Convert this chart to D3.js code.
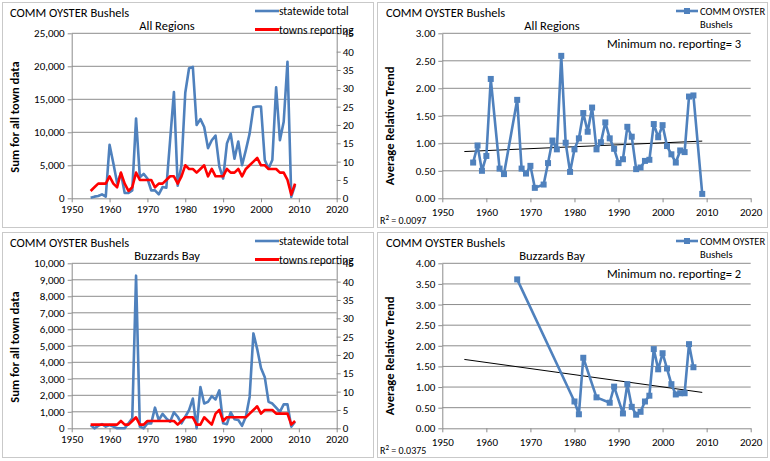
<!DOCTYPE html>
<html>
<head>
<meta charset="utf-8">
<script src="https://cdn.jsdelivr.net/npm/d3@7"></script>
<style>
  body { margin: 0; background: #fff; }
  svg text { font-family: Carlito, Lato, "Open Sans", sans-serif; fill: #000; }
</style>
</head>
<body>
<div id="root"></div>
<script>
// ---- data ----
const years = [1955,1956,1957,1958,1959,1960,1961,1962,1963,1964,1965,1966,1967,1968,1969,
  1970,1971,1972,1973,1974,1975,1976,1977,1978,1979,1980,1981,1982,1983,1984,1985,1986,1987,
  1988,1989,1990,1991,1992,1993,1994,1995,1996,1997,1998,1999,2000,2001,2002,2003,2004,2005,
  2006,2007,2008,2009];
// statewide total bushels, all regions
const allTotal = [100,250,350,600,250,8100,5300,2300,3800,800,800,1200,12100,3200,3700,
  3000,1200,1200,600,1700,1600,8800,16100,1900,5000,16000,19700,19900,11100,12000,10800,7600,8800,
  9500,4800,3000,8300,9800,6000,8600,5000,7300,9800,13800,13900,13900,5800,4500,5800,16800,8800,
  11600,20700,200,2000];
const allTowns = [2,3,4,4,4,6,4,3,7,4,2,3,7,5,5,
  5,5,3,4,4,5,6,6,4,6,9,8,8,7,8,9,6,8,
  6,6,6,8,7,7,8,6,8,9,10,11,9,9,8,8,8,7,
  7,5,1,4];
// Buzzards Bay
const bbTotal = [200,0,150,250,100,200,100,0,0,0,300,600,9250,100,0,
  300,300,1250,500,870,600,400,970,700,300,700,1100,1800,0,2500,1500,1600,1950,
  1750,2300,300,250,970,550,500,150,700,1900,5750,4800,3650,3100,1600,1500,1250,1000,
  1450,1450,100,400];
const bbTowns = [1,1,1,1,1,1,1,1,2,1,1,2,3,1,1,
  2,2,2,2,2,2,2,2,1,2,3,3,3,1,1,3,2,1,
  4,5,2,3,3,3,3,3,3,4,5,6,4,5,5,5,4,4,
  4,4,1,2];

// average relative trend, all regions (min. 3 reporting)
const allTrendYears = [1957,1958,1959,1960,1961,1963,1964,1967,1968,1969,1970,1971,1973,1974,
  1975,1976,1977,1978,1979,1980,1981,1982,1983,1984,1985,1986,1987,1988,1989,1990,1991,1992,
  1993,1994,1995,1996,1997,1998,1999,2000,2001,2002,2003,2004,2005,2006,2007,2009];
const allTrend = [0.65,0.96,0.50,0.77,2.17,0.54,0.44,1.79,0.54,0.45,0.59,0.19,0.25,0.64,
  1.05,0.89,2.59,1.01,0.48,0.89,1.09,1.55,1.21,1.65,0.89,1.02,1.38,1.09,0.90,0.64,0.71,1.30,
  1.12,0.53,0.56,0.68,0.70,1.35,1.11,1.33,0.95,0.80,0.65,0.87,0.84,1.85,1.87,0.08];
// Buzzards Bay (min. 2 reporting)
const bbTrendYears = [1967,1980,1981,1982,1985,1988,1989,1991,1992,1993,1994,1995,1996,1997,
  1998,1999,2000,2001,2002,2003,2004,2005,2006,2007];
const bbTrend = [3.61,0.65,0.34,1.71,0.75,0.62,1.01,0.36,1.07,0.52,0.33,0.40,0.65,0.79,
  1.92,1.43,1.82,1.45,1.07,0.82,0.85,0.85,2.04,1.48];

// linear trend lines as drawn (end points)
const fitYears = [1955, 2009];
const allFit = [0.85, 1.04];
const bbFit = [1.67, 0.87];

// tick labels
const xTicks = [1950,1960,1970,1980,1990,2000,2010,2020];
const allSumTicks = [0,5000,10000,15000,20000,25000];
const bbSumTicks = [0,1000,2000,3000,4000,5000,6000,7000,8000,9000,10000];
const townTicks = [0,5,10,15,20,25,30,35,40,45];
const allTrendTicks = [0,0.5,1,1.5,2,2.5,3];
const bbTrendTicks = [0,0.5,1,1.5,2,2.5,3,3.5,4];

// ---- drawing ----
const BLUE = "#4f81bd", RED = "#ff0000", GRID = "#8c8c8c", FRAME = "#c9c9c9";
const svg = d3.select("#root").append("svg").attr("width", 770).attr("height", 461);

let styleAxis = g => {
  g.select(".domain").attr("stroke", GRID);
  g.selectAll(".tick line").attr("stroke", GRID);
  g.selectAll("text").attr("font-size", 11);
};

let frame = (x, y, w, h) => {
  svg.append("rect").attr("x", x + 0.5).attr("y", y + 0.5).attr("width", w).attr("height", h)
    .attr("fill", "#fff").attr("stroke", FRAME);
};

let xScale = (l, r) => d3.scaleLinear().domain([1950, 2020]).range([l, r]);

let comboPanel = (top, region, totals, towns, sumTicks) => {
  const L = 71.7, R = 336.7, T = top + 33.3, B = top + 198.3;
  frame(2, top + 2, 371, 225);
  const x = xScale(L, R);
  const y = d3.scaleLinear().domain([0, d3.max(sumTicks)]).range([B, T]);
  const y2 = d3.scaleLinear().domain([0, 45]).range([B, T]);
  const g = svg.append("g");

  g.selectAll("line.grid").data(sumTicks.slice(1)).join("line").attr("class", "grid")
    .attr("x1", L).attr("x2", R).attr("y1", d => y(d)).attr("y2", d => y(d))
    .attr("stroke", GRID);

  g.append("g").attr("transform", `translate(${L},0)`)
    .call(d3.axisLeft(y).tickValues(sumTicks).tickFormat(d3.format(",")).tickSize(4).tickSizeOuter(0))
    .call(styleAxis).selectAll("text").attr("x", -7);
  g.append("g").attr("transform", `translate(${R},0)`)
    .call(d3.axisRight(y2).tickValues(townTicks).tickSize(4).tickSizeOuter(0))
    .call(styleAxis).selectAll("text").attr("x", 6);
  g.append("g").attr("transform", `translate(0,${B})`)
    .call(d3.axisBottom(x).tickValues(xTicks).tickFormat(d3.format("d")).tickSize(4).tickSizeOuter(0))
    .call(styleAxis).selectAll("text").attr("y", 7);

  const line = (yy, vals) => d3.line().x((d, i) => x(years[i])).y(d => yy(d))(vals);
  g.append("path").attr("d", line(y, totals)).attr("fill", "none")
    .attr("stroke", BLUE).attr("stroke-width", 2.6).attr("stroke-linejoin", "round");
  g.append("path").attr("d", line(y2, towns)).attr("fill", "none")
    .attr("stroke", RED).attr("stroke-width", 2.6).attr("stroke-linejoin", "round");

  g.append("text").attr("x", 10).attr("y", top + 17).attr("font-size", 12.5).text("COMM OYSTER Bushels");
  g.append("text").attr("x", 167).attr("y", top + 30).attr("font-size", 12.5)
    .attr("text-anchor", "middle").text(region);
  g.append("text").attr("transform", `translate(19,${top + 117}) rotate(-90)`)
    .attr("text-anchor", "middle").attr("font-size", 12.5).attr("font-weight", "bold")
    .text("Sum for all town data");

  // legend
  [[BLUE, "statewide total", 11], [RED, "towns reporting", 29.5]].forEach(([c, t, dy]) => {
    g.append("line").attr("x1", 255).attr("x2", 279).attr("y1", top + dy).attr("y2", top + dy)
      .attr("stroke", c).attr("stroke-width", c === RED ? 3 : 2.6);
    g.append("text").attr("x", 279).attr("y", top + dy + 4).attr("font-size", 11.5).text(t);
  });
};

let trendPanel = (top, region, yrs, vals, fit, ticks, minRep, r2) => {
  const L = 442.3, R = 750.7, T = top + 33.3, B = top + 198.3;
  frame(377, top + 2, 390, 225);
  const x = xScale(L, R);
  const y = d3.scaleLinear().domain([0, d3.max(ticks)]).range([B, T]);
  const g = svg.append("g");

  g.selectAll("line.grid").data(ticks.slice(1)).join("line").attr("class", "grid")
    .attr("x1", L).attr("x2", R).attr("y1", d => y(d)).attr("y2", d => y(d))
    .attr("stroke", GRID);
  g.append("g").attr("transform", `translate(${L},0)`)
    .call(d3.axisLeft(y).tickValues(ticks).tickFormat(d3.format(".2f")).tickSize(4).tickSizeOuter(0))
    .call(styleAxis).selectAll("text").attr("x", -7);
  g.append("g").attr("transform", `translate(0,${B})`)
    .call(d3.axisBottom(x).tickValues(xTicks).tickFormat(d3.format("d")).tickSize(4).tickSizeOuter(0))
    .call(styleAxis).selectAll("text").attr("y", 10);

  g.append("path").attr("d", d3.line().x(d => x(d[0])).y(d => y(d[1]))(d3.zip(fitYears, fit)))
    .attr("stroke", "#000").attr("stroke-width", 1).attr("fill", "none");

  const pts = d3.zip(yrs, vals);
  g.append("path").attr("d", d3.line().x(d => x(d[0])).y(d => y(d[1]))(pts))
    .attr("fill", "none").attr("stroke", BLUE).attr("stroke-width", 2.6).attr("stroke-linejoin", "round");
  g.selectAll("rect.pt").data(pts).join("rect").attr("class", "pt")
    .attr("x", d => x(d[0]) - 3).attr("y", d => y(d[1]) - 3).attr("width", 6).attr("height", 6)
    .attr("fill", BLUE);

  g.append("text").attr("x", 386).attr("y", top + 17).attr("font-size", 12.5).text("COMM OYSTER Bushels");
  g.append("text").attr("x", 552).attr("y", top + 30).attr("font-size", 12.5)
    .attr("text-anchor", "middle").text(region);
  g.append("text").attr("transform", `translate(394,${top + 126}) rotate(-90)`)
    .attr("text-anchor", "middle").attr("font-size", 12.5).attr("font-weight", "bold")
    .text("Average Relative Trend");
  g.append("text").attr("x", 674).attr("y", top + 48).attr("font-size", 12.5)
    .attr("text-anchor", "middle").text("Minimum no. reporting= " + minRep);
  const r2t = g.append("text").attr("x", 380).attr("y", top + 224).attr("font-size", 10);
  r2t.append("tspan").text("R");
  r2t.append("tspan").attr("dy", -4).attr("font-size", 7).text("2");
  r2t.append("tspan").attr("dy", 4).text(" = " + r2);

  // legend
  g.append("line").attr("x1", 676).attr("x2", 698).attr("y1", top + 11).attr("y2", top + 11)
    .attr("stroke", BLUE).attr("stroke-width", 2.6);
  g.append("rect").attr("x", 684).attr("y", top + 8).attr("width", 6).attr("height", 6).attr("fill", BLUE);
  g.append("text").attr("x", 700).attr("y", top + 15).attr("font-size", 10.5).text("COMM OYSTER");
  g.append("text").attr("x", 700).attr("y", top + 28).attr("font-size", 10.5).text("Bushels");
};

comboPanel(0, "All Regions", allTotal, allTowns, allSumTicks);
trendPanel(0, "All Regions", allTrendYears, allTrend, allFit, allTrendTicks, 3, "0.0097");
comboPanel(230, "Buzzards Bay", bbTotal, bbTowns, bbSumTicks);
trendPanel(230, "Buzzards Bay", bbTrendYears, bbTrend, bbFit, bbTrendTicks, 2, "0.0375");
</script>
</body>
</html>
